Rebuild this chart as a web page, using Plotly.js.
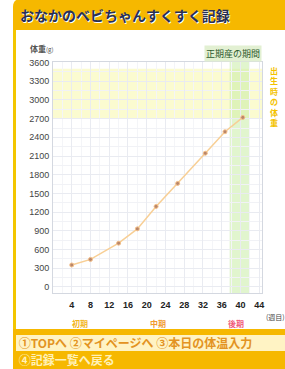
<!DOCTYPE html>
<html>
<head>
<meta charset="utf-8">
<script src="https://cdn.plot.ly/plotly-3.0.1.min.js"></script>
<style>
html,body{margin:0;padding:0;background:#fff;}
#wrap{position:relative;width:285px;height:369px;overflow:hidden;background:#fff;font-family:"Noto Sans CJK JP",sans-serif;}
#chart{position:absolute;left:0;top:0;width:285px;height:369px;z-index:0;}
#stripe{position:absolute;left:13px;top:30px;width:3px;height:300px;background:#f3c600;z-index:5;}
#footer{position:absolute;left:13px;top:329px;width:272px;height:40px;background:#f6b800;z-index:5;}
#row1{position:absolute;left:3px;top:6px;width:269px;height:16px;background:#fff3c4;font-size:12px;line-height:16px;color:#e39322;white-space:nowrap;overflow:hidden;font-weight:bold;}
#row2{position:absolute;left:3px;top:23px;width:269px;height:17px;font-size:12px;line-height:16px;color:#fff1b8;white-space:nowrap;overflow:hidden;font-weight:bold;}
</style>
</head>
<body>
<div id="wrap">
  <div id="chart"></div>
  <div id="stripe"></div>
  <div id="footer">
    <div id="row1">&nbsp;①TOPへ ②マイページへ ③本日の体温入力</div>
    <div id="row2">&nbsp;④記録一覧へ戻る</div>
  </div>
</div>
<script>
// data
var weeks   = [4, 8, 14, 18, 22, 26.6, 32.5, 36.7, 40.5];
var weights = [350, 440, 700, 930, 1290, 1660, 2145, 2490, 2720];
var xTicks  = [4, 8, 12, 16, 20, 24, 28, 32, 36, 40, 44];
var yTicks  = [0, 300, 600, 900, 1200, 1500, 1800, 2100, 2400, 2700, 3000, 3300, 3600];
var termPeriod = [37.7, 42];
var birthWeightRange = [2700, 3500];
var phaseNames = ["初期", "中期", "後期"];
var phaseWeeks = [5.7, 22.3, 39];
var phaseColors = ["#f2b520", "#f09a30", "#f05a78"];

var trace = {
  x: weeks, y: weights, type: "scatter", mode: "lines+markers",
  line: {color: "#f8cf95", width: 1.5},
  marker: {color: "#b9866a", size: 4, line: {color: "#f4c08a", width: 1}},
  hoverinfo: "none"
};

// header bar in paper units (plot area spans 53..262 px wide, 62..293 px tall)
var pw = 209, ph = 231;
function px(x) { return (x - 53) / pw; }
function py(y) { return (293 - y) / ph; }
var hx0 = px(13), hx1 = px(286), hy0 = py(30), hy1 = py(-1);
var rx = 8 / pw, ry = 8 / ph;
var headerPath = "M " + hx0 + "," + hy0 + " L " + hx0 + "," + (hy1 - ry) +
  " Q " + hx0 + "," + hy1 + " " + (hx0 + rx) + "," + hy1 +
  " L " + hx1 + "," + hy1 + " L " + hx1 + "," + hy0 + " Z";

var annotations = [
  {xref: "paper", yref: "paper", x: -0.12, y: 1.0, yshift: 14, xanchor: "left", yanchor: "middle",
   text: "<b>体重</b><span style='font-size:6px'>(g)</span>", showarrow: false,
   font: {family: "Noto Sans CJK JP", size: 8, color: "#555"}},
  {xref: "paper", yref: "paper", x: 1.0, y: 1.0, yshift: 9, xanchor: "right", yanchor: "middle",
   text: "正期産の期間", showarrow: false, bgcolor: "#e2f0d2",
   font: {family: "Noto Sans CJK JP", size: 9, color: "#2e5a2e"}},
  {xref: "paper", yref: "y", x: 1.0, xshift: 12, y: 3600, yanchor: "top", xanchor: "center",
   text: "<b>出<br>生<br>時<br>の<br>体<br>重</b>", showarrow: false,
   font: {family: "Noto Sans CJK JP", size: 8, color: "#f3c200"}},
  {xref: "paper", yref: "paper", x: 1.0, xshift: 2, y: 0, yshift: -24, xanchor: "left", yanchor: "middle",
   text: "(週目)", showarrow: false,
   font: {family: "Noto Sans CJK JP", size: 7, color: "#444"}}
];
for (var i = 0; i < phaseNames.length; i++) {
  annotations.push({xref: "x", yref: "paper", x: phaseWeeks[i], y: 0, yshift: -30, xanchor: "center", yanchor: "middle",
    text: "<b>" + phaseNames[i] + "</b>", showarrow: false,
    font: {family: "Noto Sans CJK JP", size: 8, color: phaseColors[i]}});
}

var layout = {
  width: 285, height: 369,
  margin: {l: 53, r: 23, t: 62, b: 76},
  paper_bgcolor: "#fff", plot_bgcolor: "#fff",
  showlegend: false,
  title: {
    text: "<b>おなかのベビちゃんすくすく記録</b>",
    xref: "container", yref: "container", x: 20 / 285, y: 1 - 16 / 369,
    xanchor: "left", yanchor: "middle",
    font: {family: "Noto Sans CJK JP", size: 14, color: "#283055", shadow: "1px 1px 0px #fff"}
  },
  xaxis: {
    range: [0, 44.6], tickvals: xTicks, ticktext: xTicks.map(String),
    showgrid: true, gridcolor: "#e9ebf1", zeroline: false,
    showline: true, mirror: true, linecolor: "#d4d8e0", linewidth: 1,
    ticks: "", ticklabelstandoff: 3,
    tickfont: {family: "Arial", size: 9, color: "#222", weight: "bold"},
    minor: {dtick: 2, showgrid: true, gridcolor: "#f4f5f8"}
  },
  yaxis: {
    range: [-100, 3610], tickvals: yTicks, ticktext: yTicks.map(String),
    showgrid: true, gridcolor: "#e9ebf1", zeroline: false,
    showline: true, mirror: true, linecolor: "#d4d8e0", linewidth: 1,
    ticks: "", ticklabelstandoff: 1,
    tickfont: {family: "Arial", size: 9, color: "#444"},
    minor: {dtick: 150, showgrid: true, gridcolor: "#f1f2f6"}
  },
  shapes: [
    {type: "rect", xref: "paper", yref: "y", x0: 0, x1: 1, y0: birthWeightRange[0], y1: birthWeightRange[1],
     fillcolor: "#fbfbd0", line: {width: 0}, layer: "below"},
    {type: "rect", xref: "x", yref: "paper", x0: termPeriod[0], x1: termPeriod[1], y0: 0, y1: 1,
     fillcolor: "rgba(200,236,165,0.55)", line: {width: 0}, layer: "below"},
    {type: "path", xref: "paper", yref: "paper", path: headerPath,
     fillcolor: "#f6b800", line: {width: 0}, layer: "above"}
  ],
  annotations: annotations
};

Plotly.newPlot("chart", [trace], layout, {displayModeBar: false, staticPlot: true});
</script>
</body>
</html>
